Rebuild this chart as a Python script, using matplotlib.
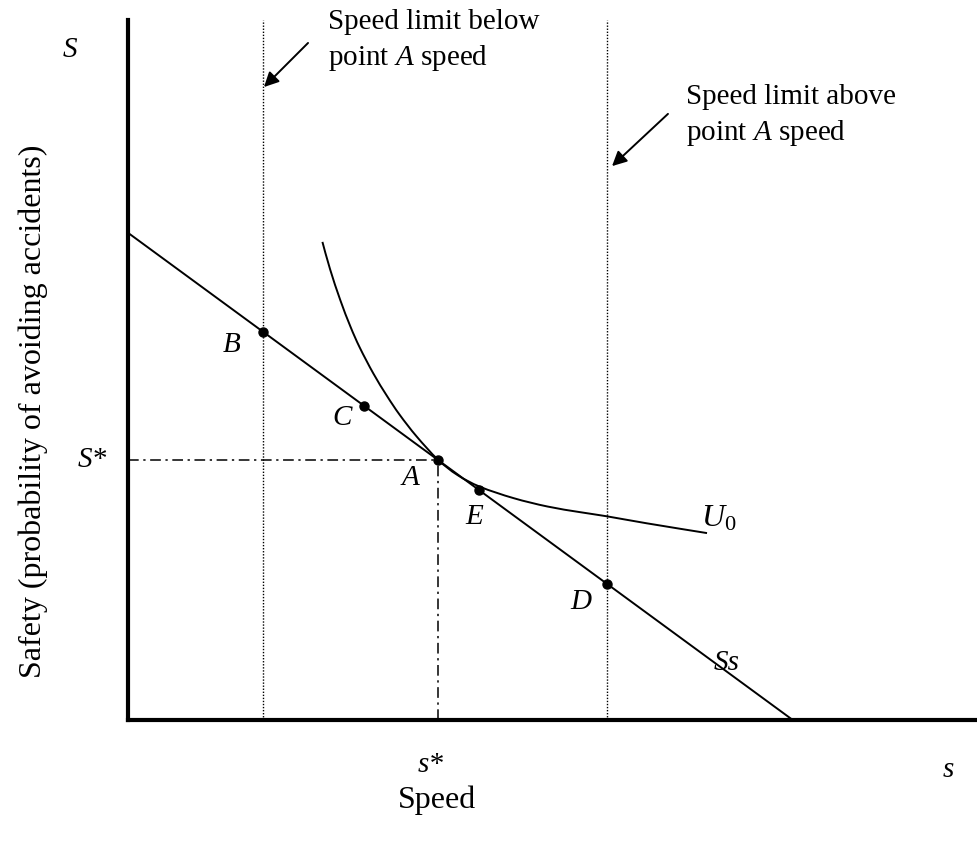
import matplotlib
matplotlib.use("Agg")
import matplotlib.pyplot as plt
from matplotlib.path import Path
from matplotlib.patches import PathPatch

plt.rcParams['font.family'] = ['Liberation Serif', 'DejaVu Serif']
plt.rcParams['mathtext.fontset'] = 'custom'
plt.rcParams['mathtext.rm'] = 'Liberation Serif'
plt.rcParams['mathtext.it'] = 'Liberation Serif:italic'

# Data (axis units: speed 0-100, safety 0-100)
ss_x = [0.0, 78.3]
ss_y = [69.6, 0.0]

u0_x = [22.9, 23.8, 25.0, 26.2, 27.3, 28.9, 30.5, 32.0, 34.0, 36.5,
        38.8, 41.5, 45.4, 49.4, 53.2, 56.4, 61.1, 68.2]
u0_y = [68.3, 64.4, 60.0, 56.2, 53.2, 49.5, 46.3, 43.6, 40.5, 37.2,
        35.0, 33.3, 31.7, 30.5, 29.7, 29.1, 28.1, 26.7]

point_names = ['A', 'B', 'C', 'E', 'D']
point_x = [36.5, 15.9, 27.8, 41.3, 56.4]
point_y = [37.2, 55.5, 44.9, 32.9, 19.5]

limit_low = 15.9
limit_high = 56.4
s_star = 36.5
S_star = 37.2

W, H = 977, 842
FS = 21


def smooth_path(xs, ys):
    # Catmull-Rom through the read points, drawn as cubic bezier segments
    pts = list(zip(xs, ys))
    verts = [pts[0]]
    codes = [Path.MOVETO]
    n = len(pts)
    for i in range(n - 1):
        p0 = pts[max(i - 1, 0)]
        p1 = pts[i]
        p2 = pts[i + 1]
        p3 = pts[min(i + 2, n - 1)]
        c1 = (p1[0] + (p2[0] - p0[0]) / 6, p1[1] + (p2[1] - p0[1]) / 6)
        c2 = (p2[0] - (p3[0] - p1[0]) / 6, p2[1] - (p3[1] - p1[1]) / 6)
        verts += [c1, c2, p2]
        codes += [Path.CURVE4] * 3
    return Path(verts, codes)


fig = plt.figure(figsize=(W / 100, H / 100), dpi=100)
ax = fig.add_axes([128 / W, (H - 720) / H, (W - 128) / W, 700 / H])
ax.set_xlim(0, 100)
ax.set_ylim(0, 100)
for side in ['top', 'right']:
    ax.spines[side].set_visible(False)
for side in ['left', 'bottom']:
    ax.spines[side].set_linewidth(3)
ax.set_xticks([])
ax.set_yticks([])

# budget line and indifference curve
ax.plot(ss_x, ss_y, color='black', lw=1.4)
ax.add_patch(PathPatch(smooth_path(u0_x, u0_y), facecolor='none', edgecolor='black', lw=1.4))

# speed limits
ax.axvline(limit_low, color='black', lw=1.0, ls=(0, (1, 1.2)))
ax.axvline(limit_high, color='black', lw=1.0, ls=(0, (1, 1.2)))

# optimum guide lines
ax.plot([0, s_star], [S_star, S_star], color='black', lw=1.1, ls=(0, (7, 3, 1.5, 3)))
ax.plot([s_star, s_star], [0, S_star], color='black', lw=1.1, ls=(0, (7, 3, 1.5, 3)))

ax.plot(point_x, point_y, 'o', color='black', ms=6.5, zorder=5)


def ftext(x, y, s, **kw):
    # place text using pixel coords of the figure
    kw.setdefault('fontsize', FS)
    fig.text(x / W, 1 - y / H, s, **kw)


it = dict(style='italic', ha='center', va='center')
ftext(232, 345, 'B', **it)
ftext(342, 418, 'C', **it)
ftext(410, 478, 'A', **it)
ftext(474, 517, 'E', **it)
ftext(581, 602, 'D', **it)
ftext(727, 663, 'Ss', **it)
ftext(719, 519, r'$U_{\mathit{0}}$', ha='center', va='center', fontsize=FS + 2)
ftext(70, 50, 'S', **it)
ftext(92, 460, 'S*', **it)
ftext(431, 765, 's*', **it)
ftext(948, 770, 's', **it)

ftext(437, 800, 'Speed', ha='center', va='center', fontsize=23)
ftext(33, 411, 'Safety (probability of avoiding accidents)', ha='center', va='center',
      rotation=90, fontsize=23)

ftext(328, 22, 'Speed limit below', ha='left', va='center')
ftext(328, 58, r'point $\mathit{A}$ speed', ha='left', va='center')
ftext(686, 97, 'Speed limit above', ha='left', va='center')
ftext(686, 133, r'point $\mathit{A}$ speed', ha='left', va='center')

ax.annotate('', xy=(262 / W, 1 - 89 / H), xytext=(310 / W, 1 - 41 / H),
            xycoords='figure fraction', textcoords='figure fraction',
            arrowprops=dict(arrowstyle='-|>', color='black', lw=1.4, mutation_scale=22))
ax.annotate('', xy=(610 / W, 1 - 168 / H), xytext=(670 / W, 1 - 112 / H),
            xycoords='figure fraction', textcoords='figure fraction',
            arrowprops=dict(arrowstyle='-|>', color='black', lw=1.4, mutation_scale=22))

fig.savefig('out.png', dpi=100)
